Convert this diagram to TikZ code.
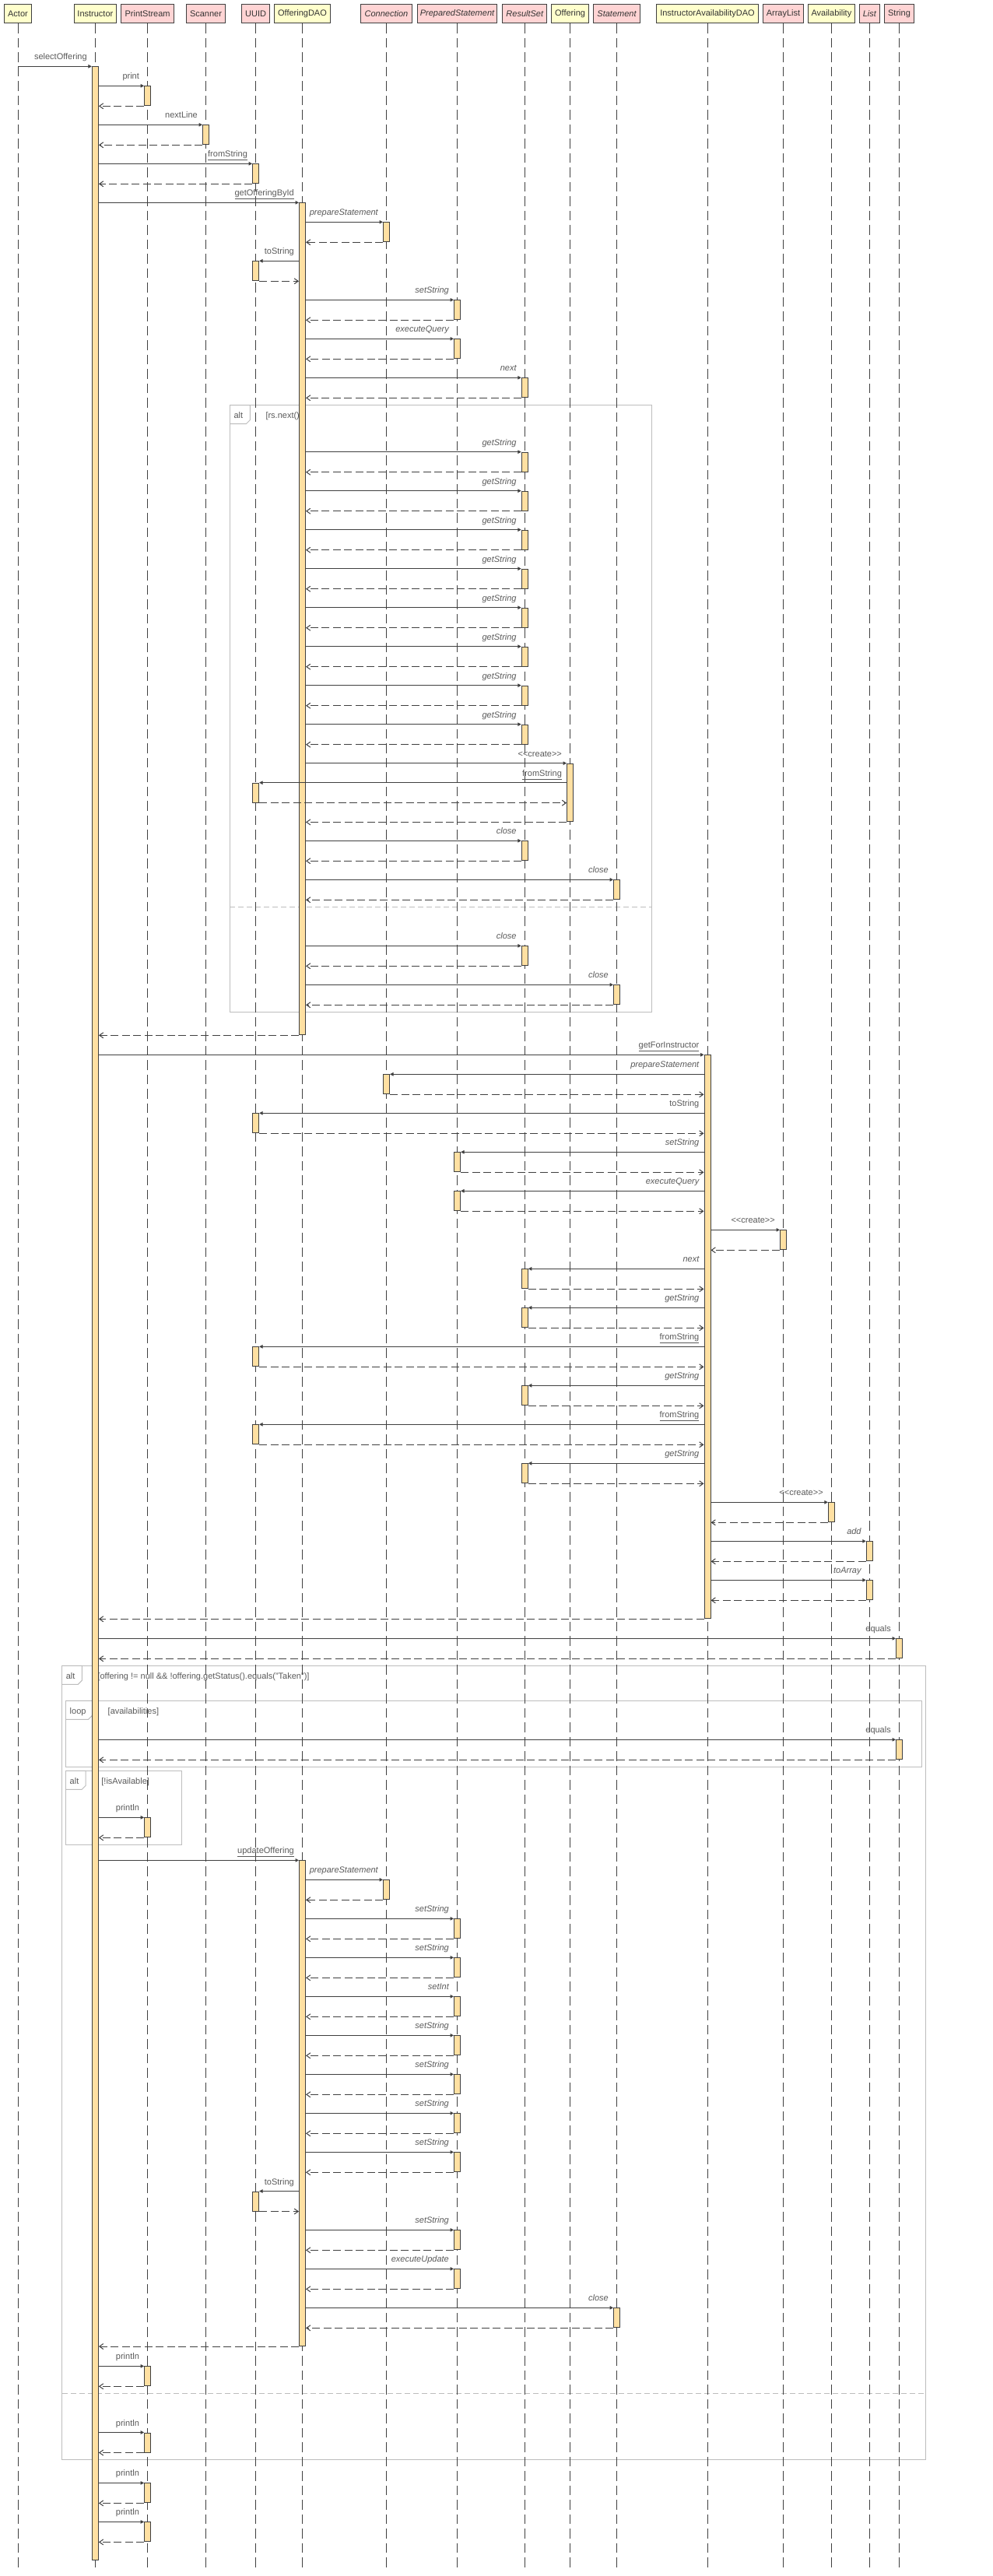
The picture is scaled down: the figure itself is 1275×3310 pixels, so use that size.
\documentclass[tikz,border=0pt]{standalone}
\usepackage{fontspec}
\setmainfont{Liberation Sans}
\usetikzlibrary{arrows.meta,calc}
\definecolor{lc}{HTML}{404040}
\definecolor{actc}{HTML}{FFE0A2}
\definecolor{hyel}{HTML}{FFFFCC}
\definecolor{hpink}{HTML}{FFD4D4}
\definecolor{fc}{HTML}{BDBDBD}
\definecolor{tc}{HTML}{333333}
\definecolor{lt}{HTML}{5A5A5A}
\newcommand{\msgfont}{\fontsize{11}{13}\selectfont}
\newcommand{\cre}{<\kern0pt<create>\kern0pt>}
% rightward call: caller, name, x, y, label, style
\newcommand{\mcallR}[6]{%
  \node[act, minimum height=25pt] (#2) at (#3,#4) {};
  \draw[call] (#1.east |- #2.north) -- (#2.north west);
  \node[lbl,#6] (#2-l) at ($(#2.north west)+(-6pt,8.5pt)$) {#5};
  \draw[ret] (#2.south west) -- (#1.east |- #2.south);
}
% leftward call
\newcommand{\mcallL}[6]{%
  \node[act, minimum height=25pt] (#2) at (#3,#4) {};
  \draw[call] (#1.west |- #2.north) -- (#2.north east);
  \node[lbl,#6] (#2-l) at ($(#1.west |- #2.north)+(-6pt,8.5pt)$) {#5};
  \draw[ret] (#2.south east) -- (#1.west |- #2.south);
}
% frame: name, x1, y1, x2, y2, tab width, kind, guard
\newcommand{\sqframe}[8]{%
  \draw[frame] (#2,#3) rectangle (#4,#5);
  \draw[frame] (#2,#3) -- (#2+#6,#3) -- (#2+#6,#3+19) -- (#2+#6-5,#3+24) -- (#2,#3+24);
  \node[flbl] (#1-k) at (#2+5,#3+17) {#7};
  \node[flbl] (#1-g) at (#2+#6+20,#3+17) {#8};
}
\begin{document}
\begin{tikzpicture}[x=1pt,y=-1pt,
  hdr/.style={draw=lc, line width=1pt, minimum height=24pt, inner sep=0pt, font=\msgfont, text=tc, anchor=north},
  hy/.style={hdr, fill=hyel},
  hp/.style={hdr, fill=hpink},
  life/.style={draw=lc, line width=1pt, dash pattern=on 12.5pt off 6pt},
  act/.style={draw=lc, fill=actc, line width=1pt, minimum width=8pt, inner sep=0pt, anchor=north},
  call/.style={draw=lc, line width=1pt, -{Triangle[length=4.5pt,width=4.5pt]}},
  ret/.style={draw=lc, line width=1pt, dash pattern=on 10pt off 4.5pt, -{Straight Barb[length=5pt,width=7pt]}},
  lbl/.style={font=\msgfont, text=lt, inner sep=0pt, anchor=base east},
  it/.style={font=\msgfont\itshape},
  frame/.style={draw=fc, line width=1pt},
  sep/.style={draw=fc, line width=1pt, dash pattern=on 7pt off 4pt},
  flbl/.style={font=\msgfont, text=lt, inner sep=0pt, anchor=base west}
]
\fill[white] (0,0) rectangle (1275,3310);
\useasboundingbox (0,0) rectangle (1275,3310);

% headers
\node[hy, minimum width=35.5pt] (hA) at (23,5.3) {Actor};
\node[hy, minimum width=54.7pt] (hI) at (122.4,5.3) {Instructor};
\node[hp, minimum width=68.2pt] (hPS) at (189.6,5.3) {PrintStream};
\node[hp, minimum width=49.8pt] (hSc) at (264.5,5.3) {Scanner};
\node[hp, minimum width=36.3pt] (hU) at (328.6,5.3) {UUID};
\node[hy, minimum width=71.4pt] (hOD) at (388.5,5.3) {OfferingDAO};
\node[hp, minimum width=66.1pt] (hC) at (496.5,5.3) {\itshape Connection};
\node[hp, minimum width=102.9pt] (hP) at (587.5,5.3) {\itshape PreparedStatement};
\node[hp, minimum width=56.8pt] (hR) at (674.3,5.3) {\itshape ResultSet};
\node[hy, minimum width=48pt] (hO) at (732.6,5.3) {Offering};
\node[hp, minimum width=60.2pt] (hSt) at (792.5,5.3) {\itshape Statement};
\node[hy, minimum width=130.7pt] (hIA) at (909,5.3) {InstructorAvailabilityDAO};
\node[hp, minimum width=52.2pt] (hAL) at (1006.5,5.3) {ArrayList};
\node[hy, minimum width=60.2pt] (hAv) at (1068.4,5.3) {Availability};
\node[hp, minimum width=25.9pt] (hLi) at (1117.3,5.3) {\itshape List};
\node[hp, minimum width=38.4pt] (hS) at (1155.5,5.3) {String};

% frames
\sqframe{fa}{295.3}{520.7}{837.6}{1300}{26}{alt}{[rs.next()]}
\draw[sep] (295.3,1165.3) -- (837.6,1165.3);
\sqframe{fb}{79.6}{2140.3}{1189.2}{3160}{25.7}{alt}{[offering != null \&\& !offering.getStatus().equals("Taken")]}
\draw[sep] (79.6,3075.5) -- (1189.2,3075.5);
\sqframe{fc}{84.5}{2185.3}{1184.8}{2270.3}{34}{loop}{[availabilities]}
\sqframe{fd}{84.5}{2275.3}{233.5}{2370.3}{25.7}{alt}{[!isAvailable]}

% lifelines
\coordinate (bot) at (0,3302);
\foreach \n in {hA,hI,hPS,hSc,hU,hOD,hC,hP,hR,hO,hSt,hIA,hAL,hAv,hLi,hS}
  \draw[life] (\n.south) -- (\n.south |- bot);

% instructor activation
\node[act, minimum height=3203.5pt] (ins) at (122.4,85.3) {};
\draw[call] (hA.south |- ins.north) -- (ins.north west);
\node[lbl] (sel-l) at ($(ins.north west)+(-6pt,8.5pt)$) {selectOffering};

\mcallR{ins}{ps1}{189.6}{110.3}{print}{}
\mcallR{ins}{sc1}{264.5}{160.3}{nextLine}{}
\mcallR{ins}{uu1}{328.6}{210.3}{\underline{fromString}}{}

% getOfferingById
\node[act, minimum height=1069pt] (od1) at (388.5,260.3) {};
\draw[call] (ins.east |- od1.north) -- (od1.north west);
\node[lbl] (od1-l) at ($(od1.north west)+(-6pt,8.5pt)$) {\underline{getOfferingById}};
\mcallR{od1}{cn1}{496.5}{285.3}{prepareStatement}{it}
\mcallL{od1}{uu2}{328.6}{335.3}{toString}{}
\mcallR{od1}{pp1}{587.5}{385.3}{setString}{it}
\mcallR{od1}{pp2}{587.5}{435.3}{executeQuery}{it}
\mcallR{od1}{rs1}{674.3}{485.3}{next}{it}
\mcallR{od1}{rs2}{674.3}{580.7}{getString}{it}
\mcallR{od1}{rs3}{674.3}{630.7}{getString}{it}
\mcallR{od1}{rs4}{674.3}{680.7}{getString}{it}
\mcallR{od1}{rs5}{674.3}{730.7}{getString}{it}
\mcallR{od1}{rs6}{674.3}{780.7}{getString}{it}
\mcallR{od1}{rs7}{674.3}{830.7}{getString}{it}
\mcallR{od1}{rs8}{674.3}{880.7}{getString}{it}
\mcallR{od1}{rs9}{674.3}{930.7}{getString}{it}
\node[act, minimum height=74.7pt] (of1) at (732.6,980.7) {};
\draw[call] (od1.east |- of1.north) -- (of1.north west);
\node[lbl] (of1-l) at ($(of1.north west)+(-6pt,8.5pt)$) {\cre};
\mcallL{of1}{uu3}{328.6}{1005.7}{\underline{fromString}}{}
\draw[ret] (of1.south west) -- (od1.east |- of1.south);
\mcallR{od1}{rs10}{674.3}{1080.3}{close}{it}
\mcallR{od1}{st1}{792.5}{1130.3}{close}{it}
\mcallR{od1}{rs11}{674.3}{1215.3}{close}{it}
\mcallR{od1}{st2}{792.5}{1265.3}{close}{it}
\draw[ret] (od1.south west) -- (ins.east |- od1.south);

% getForInstructor
\node[act, minimum height=724pt] (ia1) at (909,1355.3) {};
\draw[call] (ins.east |- ia1.north) -- (ia1.north west);
\node[lbl] (ia1-l) at ($(ia1.north west)+(-6pt,8.5pt)$) {\underline{getForInstructor}};
\mcallL{ia1}{cn2}{496.5}{1380.3}{prepareStatement}{it}
\mcallL{ia1}{uu4}{328.6}{1430.3}{toString}{}
\mcallL{ia1}{pp3}{587.5}{1480.3}{setString}{it}
\mcallL{ia1}{pp4}{587.5}{1530.3}{executeQuery}{it}
\mcallR{ia1}{al1}{1006.5}{1580.3}{\cre}{}
\mcallL{ia1}{rs12}{674.3}{1630.3}{next}{it}
\mcallL{ia1}{rs13}{674.3}{1680.3}{getString}{it}
\mcallL{ia1}{uu5}{328.6}{1730.3}{\underline{fromString}}{}
\mcallL{ia1}{rs14}{674.3}{1780.3}{getString}{it}
\mcallL{ia1}{uu6}{328.6}{1830.3}{\underline{fromString}}{}
\mcallL{ia1}{rs15}{674.3}{1880.3}{getString}{it}
\mcallR{ia1}{av1}{1068.4}{1930.3}{\cre}{}
\mcallR{ia1}{li1}{1117.3}{1980.3}{add}{it}
\mcallR{ia1}{li2}{1117.3}{2030.3}{toArray}{it}
\draw[ret] (ia1.south west) -- (ins.east |- ia1.south);

\mcallR{ins}{sg1}{1155.5}{2105.3}{equals}{}
\mcallR{ins}{sg2}{1155.5}{2235.3}{equals}{}
\mcallR{ins}{ps2}{189.6}{2335.3}{println}{}

% updateOffering
\node[act, minimum height=623.7pt] (od2) at (388.5,2390.3) {};
\draw[call] (ins.east |- od2.north) -- (od2.north west);
\node[lbl] (od2-l) at ($(od2.north west)+(-6pt,8.5pt)$) {\underline{updateOffering}};
\mcallR{od2}{cn3}{496.5}{2415.3}{prepareStatement}{it}
\mcallR{od2}{pp5}{587.5}{2465.3}{setString}{it}
\mcallR{od2}{pp6}{587.5}{2515.3}{setString}{it}
\mcallR{od2}{pp7}{587.5}{2565.3}{setInt}{it}
\mcallR{od2}{pp8}{587.5}{2615.3}{setString}{it}
\mcallR{od2}{pp9}{587.5}{2665.3}{setString}{it}
\mcallR{od2}{pp10}{587.5}{2715.3}{setString}{it}
\mcallR{od2}{pp11}{587.5}{2765.3}{setString}{it}
\mcallL{od2}{uu7}{328.6}{2815.5}{toString}{}
\mcallR{od2}{pp12}{587.5}{2865.3}{setString}{it}
\mcallR{od2}{pp13}{587.5}{2915.3}{executeUpdate}{it}
\mcallR{od2}{st3}{792.5}{2965.3}{close}{it}
\draw[ret] (od2.south west) -- (ins.east |- od2.south);

\mcallR{ins}{ps3}{189.6}{3040.3}{println}{}
\mcallR{ins}{ps4}{189.6}{3125.5}{println}{}
\mcallR{ins}{ps5}{189.6}{3190.4}{println}{}
\mcallR{ins}{ps6}{189.6}{3240.4}{println}{}
\end{tikzpicture}
\end{document}
